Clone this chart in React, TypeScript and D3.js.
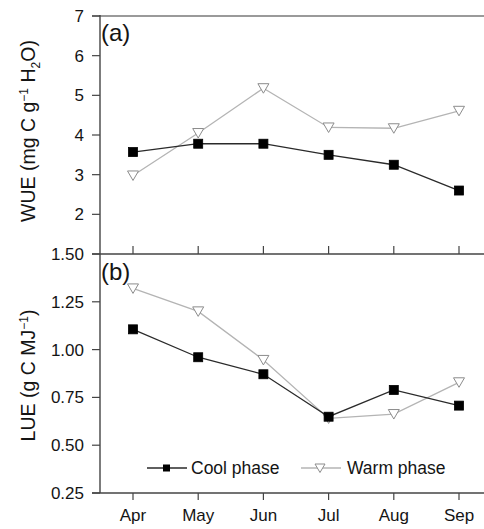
import React from "react";
import * as d3 from "d3";

const months = ["Apr", "May", "Jun", "Jul", "Aug", "Sep"];
const wueCool = [3.57, 3.78, 3.78, 3.5, 3.25, 2.6];
const wueWarm = [2.98, 4.05, 5.18, 4.19, 4.17, 4.61];
const lueCool = [1.106, 0.96, 0.871, 0.649, 0.789, 0.707];
const lueWarm = [1.32, 1.2, 0.946, 0.64, 0.663, 0.829];
const wueTicks = [2, 3, 4, 5, 6, 7];
const lueTicks = [0.25, 0.5, 0.75, 1.0, 1.25, 1.5];

const W = 484;
const H = 529;
const left = 100;
const right = 484;
const topA = 16;
const midY = 254;
const botY = 493;

const FONT = "'Liberation Sans', Arial, Helvetica, sans-serif";
const TEXT = "#141414";
const AXIS = "#444";
const COOL = "#2a2a2a";
const WARM = "#b4b4b4";
const WARM_MK = "#8c8c8c";

const x = d3.scalePoint<string>().domain(months).range([133, 459]);
const yA = d3.scaleLinear().domain([1, 7]).range([midY, topA]);
const yB = d3.scaleLinear().domain([0.25, 1.5]).range([botY, midY]);

function Square({ cx, cy }: { cx: number; cy: number }) {
  return <rect x={cx - 4.5} y={cy - 4.5} width={9} height={9} fill="#000" stroke="#000" strokeWidth={0.8} />;
}

function TriDown({ cx, cy }: { cx: number; cy: number }) {
  const d = `M${cx - 5.5},${cy - 4.5}L${cx + 5.5},${cy - 4.5}L${cx},${cy + 5}Z`;
  return <path d={d} fill="#fff" stroke={WARM_MK} strokeWidth={1} />;
}

function Series({
  vals,
  y,
  color,
  kind,
}: {
  vals: number[];
  y: d3.ScaleLinear<number, number>;
  color: string;
  kind: "sq" | "tri";
}) {
  const line = d3
    .line<number>()
    .x((_, i) => x(months[i]) as number)
    .y((v) => y(v));
  return (
    <g>
      <path d={line(vals) || ""} fill="none" stroke={color} strokeWidth={1.3} />
      {vals.map((v, i) =>
        kind === "sq" ? (
          <Square key={i} cx={x(months[i]) as number} cy={y(v)} />
        ) : (
          <TriDown key={i} cx={x(months[i]) as number} cy={y(v)} />
        )
      )}
    </g>
  );
}

export default function App() {
  const fs = 17;
  const fsT = 19.5;
  return (
    <svg
      width={W}
      height={H}
      style={{ position: "absolute", left: 0, top: 0, background: "#fff" }}
      fontFamily={FONT}
    >
      <rect width={W} height={H} fill="#fff" />

      {/* frame lines */}
      <line x1={92} x2={right} y1={topA} y2={topA} stroke="#9a9a9a" strokeWidth={2} />
      <line x1={left} x2={left} y1={topA - 1} y2={botY} stroke={AXIS} strokeWidth={1.4} />
      <line x1={92} x2={right} y1={midY} y2={midY} stroke={AXIS} strokeWidth={1.4} />
      <line x1={92} x2={right} y1={botY} y2={botY} stroke={AXIS} strokeWidth={1.4} />

      {/* panel (a) y ticks */}
      {wueTicks.map((t) => (
        <g key={"a" + t}>
          <line x1={92} x2={left} y1={yA(t)} y2={yA(t)} stroke={AXIS} strokeWidth={1.2} />
          <text x={84} y={yA(t)} dy="0.35em" textAnchor="end" fontSize={fs} fill={TEXT}>
            {t}
          </text>
        </g>
      ))}
      {/* panel (b) y ticks */}
      {lueTicks.map((t) => (
        <g key={"b" + t}>
          <line x1={92} x2={left} y1={yB(t)} y2={yB(t)} stroke={AXIS} strokeWidth={1.2} />
          <text x={84} y={yB(t)} dy="0.35em" textAnchor="end" fontSize={fs} fill={TEXT}>
            {t.toFixed(2)}
          </text>
        </g>
      ))}

      {/* x ticks: inward on panel (a), outward on panel (b) */}
      {months.map((m) => (
        <g key={m}>
          <line x1={x(m)} x2={x(m)} y1={midY} y2={midY - 8} stroke={AXIS} strokeWidth={1.2} />
          <line x1={x(m)} x2={x(m)} y1={botY} y2={botY + 7} stroke={AXIS} strokeWidth={1.2} />
          <text x={x(m)} y={521} textAnchor="middle" fontSize={fs} fill={TEXT}>
            {m}
          </text>
        </g>
      ))}

      {/* axis titles */}
      <text
        transform={`translate(35, ${(topA + midY) / 2 - 4}) rotate(-90)`}
        textAnchor="middle"
        fontSize={fsT}
        fill={TEXT}
      >
        WUE (mg C g
        <tspan dy={-7} fontSize={12}>−1</tspan>
        <tspan dy={7}> H</tspan>
        <tspan dy={5} fontSize={12}>2</tspan>
        <tspan dy={-5}>O)</tspan>
      </text>
      <text
        transform={`translate(35, ${(midY + botY) / 2 + 2}) rotate(-90)`}
        textAnchor="middle"
        fontSize={fsT}
        fill={TEXT}
      >
        LUE (g C MJ
        <tspan dy={-7} fontSize={12}>−1</tspan>
        <tspan dy={7}>)</tspan>
      </text>

      {/* panel letters */}
      <text x={101} y={41} fontSize={24} fill={TEXT}>(a)</text>
      <text x={101} y={280} fontSize={24} fill={TEXT}>(b)</text>

      {/* series */}
      <Series vals={wueWarm} y={yA} color={WARM} kind="tri" />
      <Series vals={wueCool} y={yA} color={COOL} kind="sq" />
      <Series vals={lueWarm} y={yB} color={WARM} kind="tri" />
      <Series vals={lueCool} y={yB} color={COOL} kind="sq" />

      {/* legend */}
      <g>
        <line x1={147} x2={187} y1={468} y2={468} stroke={COOL} strokeWidth={1.3} />
        <rect x={163} y={464.5} width={7} height={7} fill="#000" />
        <text x={191} y={468} dy="0.35em" fontSize={17.5} fill={TEXT}>Cool phase</text>
        <line x1={301} x2={341} y1={468} y2={468} stroke={WARM} strokeWidth={1.3} />
        <path d="M315,464L325,464L320,472.5Z" fill="#fff" stroke={WARM_MK} strokeWidth={1} />
        <text x={347} y={468} dy="0.35em" fontSize={17.5} fill={TEXT}>Warm phase</text>
      </g>
    </svg>
  );
}
